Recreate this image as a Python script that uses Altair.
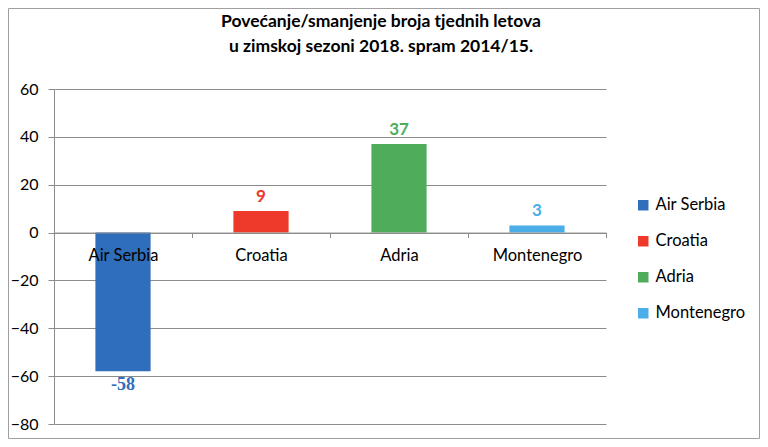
import altair as alt
import pandas as pd

categories = ["Air Serbia", "Croatia", "Adria", "Montenegro"]
values = [-58, 9, 37, 3]
colors = ["#2F6EBA", "#EE3A2B", "#4EAC5B", "#4BAEE8"]
y_ticks = [-80, -60, -40, -20, 0, 20, 40, 60]
title_line1 = "Povećanje/smanjenje broja tjednih letova"
title_line2 = "u zimskoj sezoni 2018. spram 2014/15."

df = pd.DataFrame({"airline": categories, "change": values, "color": colors})
df["label"] = df["change"].astype(str)

W, H = 552, 335
FONT = "Lato"
GRID = "#8c8c8c"

x = alt.X(
    "airline:N", sort=categories,
    scale=alt.Scale(paddingInner=0, paddingOuter=0),
    axis=alt.Axis(title=None, orient="bottom", offset=-H * 80 / 140, labelAngle=0,
                  labelFontSize=16.5, labelColor="black", labelFont=FONT, labelPadding=10,
                  domainColor=GRID, tickColor=GRID, tickSize=5, tickBand="extent",
                  zindex=1, grid=False),
)
y = alt.Y(
    "change:Q", scale=alt.Scale(domain=[-80, 60], nice=False),
    axis=alt.Axis(title=None, values=y_ticks, grid=True, gridColor=GRID, domainColor=GRID,
                  tickColor=GRID, tickSize=6, labelFontSize=16, labelFont=FONT,
                  labelColor="black", labelPadding=10),
)
color = alt.Color(
    "airline:N", sort=categories,
    scale=alt.Scale(domain=categories, range=colors),
    legend=alt.Legend(title=None, orient="none", legendX=581, legendY=108,
                      symbolType="square", symbolSize=110, labelFontSize=16.5,
                      labelFont=FONT, labelColor="black", rowPadding=19,
                      symbolStrokeWidth=0, labelOffset=4),
)

base = alt.Chart(df)
bars = base.mark_bar(width=alt.RelativeBandSize(0.4)).encode(x=x, y=y, color=color)

pos_labels = base.transform_filter("datum.change >= 0").mark_text(
    baseline="bottom", dy=-5, fontSize=17, fontWeight="bold", font=FONT
).encode(x=x, y=y, text="label:N", color=alt.Color("color:N", scale=None))

neg_labels = base.transform_filter("datum.change < 0").mark_text(
    baseline="top", dy=5, fontSize=18, fontWeight="bold", font="Liberation Serif, serif"
).encode(x=x, y=y, text="label:N", color=alt.Color("color:N", scale=None))

t1 = alt.Chart(pd.DataFrame({"t": [title_line1]})).mark_text(
    fontSize=17.5, fontWeight="bold", font=FONT, baseline="middle", color="black"
).encode(text="t:N", x=alt.value(327), y=alt.value(-67))
t2 = alt.Chart(pd.DataFrame({"t": [title_line2]})).mark_text(
    fontSize=17.5, fontWeight="bold", font=FONT, baseline="middle", color="black"
).encode(text="t:N", x=alt.value(327), y=alt.value(-42))

frame = alt.Chart(pd.DataFrame({"a": [0]})).mark_rect(
    filled=False, stroke="#a0a0a0", strokeWidth=1
).encode(x=alt.value(-45.5), x2=alt.value(W + 153.5), y=alt.value(-80.5), y2=alt.value(H + 14.5))

chart = alt.layer(bars, pos_labels, neg_labels, t1, t2, frame).properties(
    width=W, height=H,
    autosize=alt.AutoSizeParams(type="none"),
    padding={"left": 46, "top": 81, "right": 154, "bottom": 15},
).configure_view(stroke=None)

chart.save("out.html", embed_options={"renderer": "svg", "actions": False})
